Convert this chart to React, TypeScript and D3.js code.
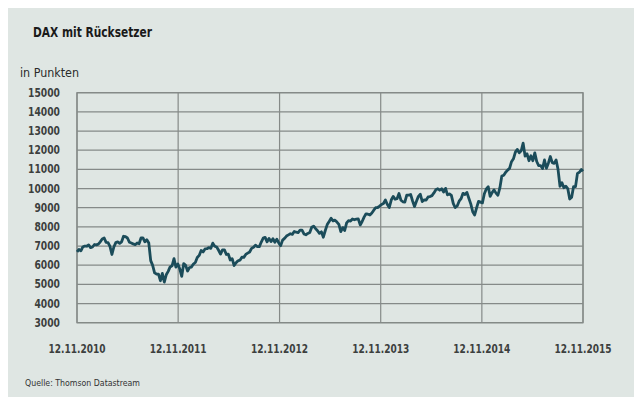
import React from "react";
import * as d3 from "d3";

const title = "DAX mit Rücksetzer";
const unitLabel = "in Punkten";
const sourceLabel = "Quelle: Thomson Datastream";
const startDate = "2010-11-12";
const endDate = "2015-11-12";
const yTicks = [3000, 4000, 5000, 6000, 7000, 8000, 9000, 10000, 11000, 12000, 13000, 14000, 15000];
const xTickLabels = ["12.11.2010", "12.11.2011", "12.11.2012", "12.11.2013", "12.11.2014", "12.11.2015"];
const xTickDates = ["2010-11-12", "2011-11-12", "2012-11-12", "2013-11-12", "2014-11-12", "2015-11-12"];

// weekly closes (Fridays), starting 2010-11-12
const dax2010 = [6700, 6820, 6750, 6950, 7000, 6990, 7060, 6914];
const dax2011 = [
  6950, 7080, 7060, 7100,
  7220, 7370, 7420, 7190,
  7180, 6980, 6560, 6950,
  7180, 7220, 7140, 7220, 7510,
  7490, 7420, 7200, 7160,
  7110, 7070, 7160, 7120,
  7420, 7420, 7220, 7330, 7160,
  6240, 5990, 5600, 5540,
  5530, 5190, 5570, 5120, 5500,
  5680, 5910, 5970, 6340,
  5900, 6060, 5800, 5420,
  6080, 5990, 5700, 5880, 5900,
];
const dax2012 = [
  6060, 6140, 6400, 6510,
  6770, 6690, 6850, 6860,
  6920, 6880, 7150, 6990, 6950,
  6780, 6580, 6800, 6800,
  6560, 6580, 6270, 6340,
  5980, 6130, 6230, 6260, 6420,
  6410, 6560, 6630, 6690,
  6880, 6940, 7040, 6970, 6970,
  7210, 7410, 7450, 7220,
  7400, 7230, 7380, 7200,
  7360, 7160, 7020, 7310, 7400,
  7520, 7580, 7640, 7610,
];
const dax2013 = [
  7760, 7720, 7700, 7830,
  7830, 7630, 7590, 7660,
  7710, 7980, 8040, 7910, 7800,
  7660, 7740, 7460, 7810,
  8120, 8280, 8450, 8310, 8350,
  8250, 8130, 7750, 7960,
  7810, 8210, 8330, 8300,
  8410, 8370, 8400, 8420, 8100,
  8280, 8510, 8680, 8660,
  8620, 8720, 8870, 9000,
  9010, 9080, 9170, 9220, 9400,
  9170, 9010, 9400, 9590,
];
const dax2014 = [
  9440, 9470, 9740, 9390, 9310,
  9290, 9660, 9660, 9690,
  9350, 9060, 9340, 9590,
  9700, 9320, 9410, 9400,
  9560, 9580, 9630, 9770, 9940,
  9990, 9910, 9990, 9820,
  10010, 9670, 9720, 9640,
  9210, 9010, 9090, 9340, 9470,
  9750, 9690, 9800, 9490,
  9200, 8790, 8620, 8990, 9330,
  9290, 9250, 9730, 9980,
  10090, 9590, 9790, 9930,
];
const dax2015 = [
  9760, 9650, 10030, 10650, 10690,
  10850, 10960, 11050, 11400,
  11550, 11900, 12040, 11870,
  11970, 12370, 11690, 11810,
  11450, 11710, 11450, 11860, 11410,
  11200, 11200, 11040, 11490,
  11060, 11320, 11670, 11350, 11310,
  11490, 10990, 10120, 10300,
  10040, 10120, 10000, 9450,
  9550, 10100, 10100, 10790, 10850,
  10990, 10900,
];

const W = 634;
const H = 397;

export default function App() {
  const values = [...dax2010, ...dax2011, ...dax2012, ...dax2013, ...dax2014, ...dax2015];
  const parse = d3.utcParse("%Y-%m-%d");
  const start = parse(startDate)!;
  const data = values.map((v, i) => ({ date: d3.utcDay.offset(start, i * 7), value: v }));

  const left = 77, right = 583, top = 92.7, bottom = 322.7;
  const x = d3.scaleUtc().domain([start, parse(endDate)!]).range([left, right]).clamp(true);
  const y = d3.scaleLinear().domain([3000, 15000]).range([bottom, top]);

  const line = d3.line<{ date: Date; value: number }>()
    .x((d) => x(d.date))
    .y((d) => y(d.value))
    .curve(d3.curveLinear);

  const font = "'DejaVu Sans Condensed', 'DejaVu Sans', sans-serif";
  const gridColor = "#858a88";
  const labelColor = "#3c3f3e";

  return (
    <svg width={W} height={H} style={{ position: "absolute", left: 0, top: 0 }} fontFamily={font}>
      <rect x={0} y={0} width={W} height={H} fill="#ffffff" />
      <rect x={8} y={8} width={W - 8} height={H - 8} fill="#dfe6e3" />
      <text x={33} y={37} fontSize={14} fontWeight="bold" fill="#1a1a1a" textLength={119} lengthAdjust="spacingAndGlyphs">{title}</text>
      <text x={20} y={77} fontSize={12} fill="#2a2a2a" textLength={59} lengthAdjust="spacingAndGlyphs">{unitLabel}</text>

      {yTicks.map((t) => (
        <g key={t}>
          <line x1={left} x2={right} y1={y(t)} y2={y(t)} stroke={gridColor} strokeWidth={1.3} />
          <text x={60} y={y(t)} dy="0.35em" textAnchor="end" fontSize={11.5} fontWeight="bold" fill={labelColor}
            textLength={String(t).length * 6.4} lengthAdjust="spacingAndGlyphs">
            {t}
          </text>
        </g>
      ))}
      {xTickDates.map((d, i) => (
        <g key={d}>
          <line x1={x(parse(d)!)} x2={x(parse(d)!)} y1={top} y2={bottom} stroke={gridColor} strokeWidth={1.2} />
          <text x={x(parse(d)!)} y={353} textAnchor="middle" fontSize={11.5} fontWeight="bold" fill={labelColor}
            textLength={57} lengthAdjust="spacingAndGlyphs">
            {xTickLabels[i]}
          </text>
        </g>
      ))}
      <rect x={left} y={top} width={right - left} height={bottom - top} fill="none" stroke={gridColor} strokeWidth={1.3} />

      <path d={line(data) || ""} fill="none" stroke="#1b4c5a" strokeWidth={2.8} strokeLinejoin="round" />

      <text x={25} y={386} fontSize={8.5} fill="#333" textLength={115} lengthAdjust="spacingAndGlyphs">{sourceLabel}</text>
    </svg>
  );
}
